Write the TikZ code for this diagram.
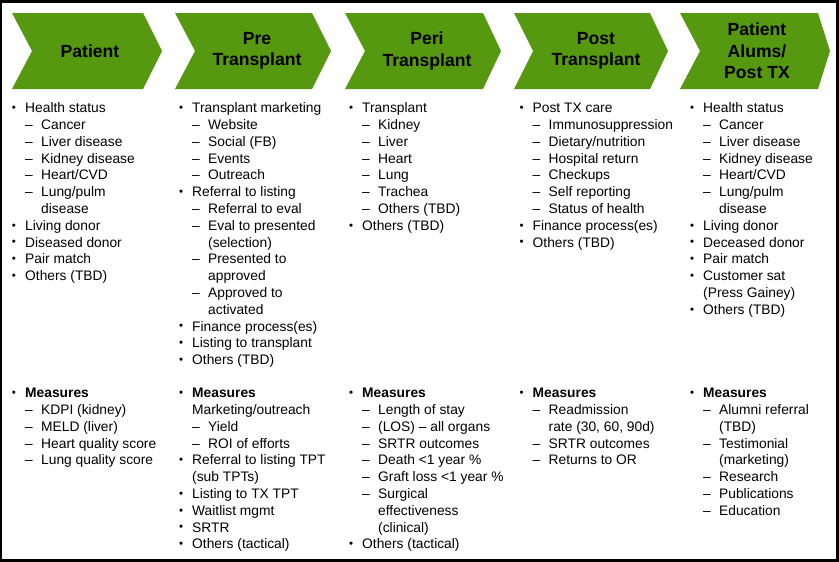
\documentclass[tikz,border=0pt]{standalone}
\usepackage{fontspec}
\setmainfont{Liberation Sans}
\definecolor{chevgreen}{RGB}{86,152,16}
\newcommand\Lst{\rule[-4pt]{0pt}{16pt}}
\newcommand\Bit[1]{\Lst\makebox[13.5pt][l]{\hspace*{0.3pt}\raisebox{1.2pt}{\fontsize{11.5}{11.5}\selectfont •}}#1}
\newcommand\Sit[1]{\Lst\hspace*{13.5pt}\makebox[16pt][l]{–}#1}
\newcommand\Bcont[1]{\Lst\hspace*{13.5pt}#1}
\newcommand\Scont[1]{\Lst\hspace*{29.5pt}#1}
\begin{document}
\begin{tikzpicture}[x=1pt,y=-1pt,
  chev/.style={fill=chevgreen},
  head/.style={align=center,inner sep=0pt,font=\bfseries\fontsize{17.6}{21.5}\selectfont},
  list/.style={anchor=north west,align=left,inner sep=0pt,font=\fontsize{13.8}{16.8}\selectfont}]
\useasboundingbox (0,0) rectangle (839,562);
\fill[white] (0,0) rectangle (839,562);
\draw[line width=2.5pt] (1.2,1.5) rectangle (837.6,560.5);
% chevrons
\fill[chev] (12,13) -- (143,13) -- (162,51) -- (143,89) -- (12,89) -- (32,51) -- cycle;
\fill[chev] (175,13) -- (312,13) -- (331,51) -- (312,89) -- (175,89) -- (195,51) -- cycle;
\fill[chev] (345,13) -- (483,13) -- (501,51) -- (483,89) -- (345,89) -- (365,51) -- cycle;
\fill[chev] (514,13) -- (650,13) -- (668,51) -- (650,89) -- (514,89) -- (533,51) -- cycle;
\fill[chev] (680,13) -- (818,13) -- (830,51) -- (818,89) -- (680,89) -- (700,51) -- cycle;
\node[head] (h1) at (90,51) {Patient};
\node[head] (h2) at (257,51) {Pre\\Transplant};
\node[head] (h3) at (427,51) {Peri\\Transplant};
\node[head] (h4) at (596,51) {Post\\Transplant};
\node[head] (h5) at (757,51) {Patient\\Alums/\\Post TX};
% top lists
\node[list] (t1) at (11.5,100.5) {\Bit{Health status}\\\Sit{Cancer}\\\Sit{Liver disease}\\\Sit{Kidney disease}\\\Sit{Heart/CVD}\\\Sit{Lung/pulm}\\\Scont{disease}\\\Bit{Living donor}\\\Bit{Diseased donor}\\\Bit{Pair match}\\\Bit{Others (TBD)}};
\node[list] (t2) at (178.5,100.5) {\Bit{Transplant marketing}\\\Sit{Website}\\\Sit{Social (FB)}\\\Sit{Events}\\\Sit{Outreach}\\\Bit{Referral to listing}\\\Sit{Referral to eval}\\\Sit{Eval to presented}\\\Scont{(selection)}\\\Sit{Presented to}\\\Scont{approved}\\\Sit{Approved to}\\\Scont{activated}\\\Bit{Finance process(es)}\\\Bit{Listing to transplant}\\\Bit{Others (TBD)}};
\node[list] (t3) at (348.5,100.5) {\Bit{Transplant}\\\Sit{Kidney}\\\Sit{Liver}\\\Sit{Heart}\\\Sit{Lung}\\\Sit{Trachea}\\\Sit{Others (TBD)}\\\Bit{Others (TBD)}};
\node[list] (t4) at (519,100.5) {\Bit{Post TX care}\\\Sit{Immunosuppression}\\\Sit{Dietary/nutrition}\\\Sit{Hospital return}\\\Sit{Checkups}\\\Sit{Self reporting}\\\Sit{Status of health}\\\Bit{Finance process(es)}\\\Bit{Others (TBD)}};
\node[list] (t5) at (689.5,100.5) {\Bit{Health status}\\\Sit{Cancer}\\\Sit{Liver disease}\\\Sit{Kidney disease}\\\Sit{Heart/CVD}\\\Sit{Lung/pulm}\\\Scont{disease}\\\Bit{Living donor}\\\Bit{Deceased donor}\\\Bit{Pair match}\\\Bit{Customer sat}\\\Bcont{(Press Gainey)}\\\Bit{Others (TBD)}};
% measures
\node[list] (m1) at (11.5,385.5) {\Bit{\textbf{Measures}}\\\Sit{KDPI (kidney)}\\\Sit{MELD (liver)}\\\Sit{Heart quality score}\\\Sit{Lung quality score}};
\node[list] (m2) at (178.5,385.5) {\Bit{\textbf{Measures}}\\\Bcont{Marketing/outreach}\\\Sit{Yield}\\\Sit{ROI of efforts}\\\Bit{Referral to listing TPT}\\\Bcont{(sub TPTs)}\\\Bit{Listing to TX TPT}\\\Bit{Waitlist mgmt}\\\Bit{SRTR}\\\Bit{Others (tactical)}};
\node[list] (m3) at (348.5,385.5) {\Bit{\textbf{Measures}}\\\Sit{Length of stay}\\\Sit{(LOS) – all organs}\\\Sit{SRTR outcomes}\\\Sit{Death <1 year \%}\\\Sit{Graft loss <1 year \%}\\\Sit{Surgical}\\\Scont{effectiveness}\\\Scont{(clinical)}\\\Bit{Others (tactical)}};
\node[list] (m4) at (519,385.5) {\Bit{\textbf{Measures}}\\\Sit{Readmission}\\\Scont{rate (30, 60, 90d)}\\\Sit{SRTR outcomes}\\\Sit{Returns to OR}};
\node[list] (m5) at (689.5,385.5) {\Bit{\textbf{Measures}}\\\Sit{Alumni referral}\\\Scont{(TBD)}\\\Sit{Testimonial}\\\Scont{(marketing)}\\\Sit{Research}\\\Sit{Publications}\\\Sit{Education}};
\end{tikzpicture}
\end{document}
